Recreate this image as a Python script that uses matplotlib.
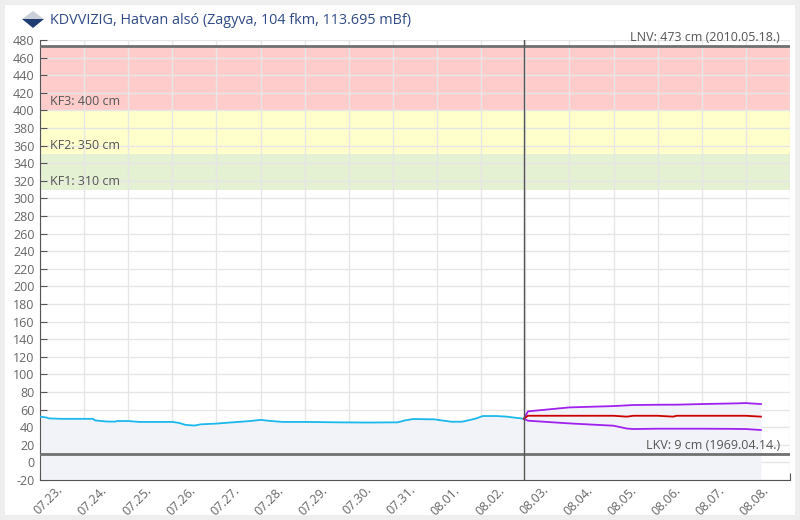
import matplotlib.pyplot as plt
from matplotlib.patches import Rectangle, Polygon
from matplotlib.transforms import ScaledTranslation

plt.rcParams['font.family'] = ['Open Sans', 'DejaVu Sans']
plt.rcParams['axes.unicode_minus'] = False

# days counted from 07.23. 00:00
day_labels = ['07.23.', '07.24.', '07.25.', '07.26.', '07.27.', '07.28.', '07.29.',
              '07.30.', '07.31.', '08.01.', '08.02.', '08.03.', '08.04.', '08.05.',
              '08.06.', '08.07.', '08.08.']

obs_t = [0.0, 0.15, 0.2, 0.5, 1.2, 1.25, 1.5, 1.7, 1.75, 2.0, 2.25, 3.0, 3.15, 3.3,
         3.5, 3.65, 4.0, 4.3, 4.5, 4.8, 5.0, 5.2, 5.5, 6.0, 6.8, 7.4, 8.1, 8.16,
         8.27, 8.46, 8.95, 9.1, 9.33, 9.56, 9.7, 9.86, 10.04, 10.35, 10.58,
         10.77, 10.97]
obs_v = [52, 51, 50, 49.5, 49.5, 47.7, 46.5, 46.3, 47, 47, 46, 46, 44.9, 42.6,
         41.9, 43.3, 44.1, 45.3, 46, 47.2, 48.3, 47.2, 46, 46, 45.5, 45.3, 45.5,
         46.2, 47.7, 49.3, 48.9, 47.7, 46.2, 46.2, 47.7, 49.6, 52.7, 52.7, 52,
         50.8, 49.6]

fc_t = [10.97, 11.06, 12.0, 13.0, 13.3, 13.45, 14.0, 14.35, 14.43, 15.0, 15.7,
        16.0, 16.34]
fc_mid = [49.6, 53, 53, 53, 52, 53, 53, 52, 53, 53, 53, 53, 52]
fc_high = [49.6, 58, 62.5, 64, 64.8, 65.2, 65.5, 65.6, 65.6, 66.3, 67, 67.4, 66.3]
fc_low = [49.6, 47.4, 44.3, 41.7, 38.5, 37.9, 38.3, 38.3, 38.3, 38.3, 38.1, 37.9, 36.8]

now_t = 10.97
levels = {'LNV': 473, 'KF3': 400, 'KF2': 350, 'KF1': 310, 'LKV': 9}

fig = plt.figure(figsize=(8, 5.2), dpi=100, facecolor='#eeeeee')
fig.patches.append(Rectangle((5 / 800, 5 / 520), 790 / 800, 510 / 520,
                             transform=fig.transFigure, facecolor='white',
                             edgecolor='none', zorder=-10))
ax = fig.add_axes([40 / 800, 40 / 520, 750 / 800, 440 / 520])
ax.set_facecolor('none')
ax.set_xlim(0, 17)
ax.set_ylim(-20, 480)

# warning bands
ax.axhspan(levels['KF3'], levels['LNV'], color='#ffcccc', lw=0, zorder=0)
ax.axhspan(levels['KF2'], levels['KF3'], color='#ffffcc', lw=0, zorder=0)
ax.axhspan(levels['KF1'], levels['KF2'], color='#e4f1d3', lw=0, zorder=0)

ax.set_yticks(range(-20, 481, 20))
ax.set_xticks(range(0, 18))
ax.grid(True, color='#e6e6e6', lw=1, zorder=0.5)
ax.set_axisbelow(True)

# fill under the curves
ax.fill_between(obs_t, -20, obs_v, color='#f2f3f8', lw=0, zorder=1)
ax.fill_between(fc_t, -20, fc_high, color='#f2f3f8', lw=0, zorder=1)

ax.plot(obs_t, obs_v, color='#1ab8ec', lw=1.3, zorder=3)
ax.plot(fc_t, fc_high, color='#a020f0', lw=1.3, zorder=3)
ax.plot(fc_t, fc_low, color='#a020f0', lw=1.3, zorder=3)
ax.plot(fc_t, fc_mid, color='#cc0000', lw=1.3, zorder=3)

ax.axhline(levels['LNV'], color='#707070', lw=2, zorder=4)
ax.axhline(levels['LKV'], color='#707070', lw=2, zorder=4)
ax.axvline(now_t, color='#555555', lw=1, zorder=4)

txt = dict(fontsize=9, color='#555555', zorder=5)
off = ScaledTranslation(0, 2 / 100, fig.dpi_scale_trans)
for key in ['KF3', 'KF2', 'KF1']:
    ax.text(0.013, levels[key], f'{key}: {levels[key]} cm', va='bottom',
            transform=ax.get_yaxis_transform() + off, **txt)
ax.text(0.987, levels['LNV'], 'LNV: 473 cm (2010.05.18.)', va='bottom', ha='right',
        transform=ax.get_yaxis_transform() + off, **txt)
ax.text(0.987, levels['LKV'], 'LKV: 9 cm (1969.04.14.)', va='bottom', ha='right',
        transform=ax.get_yaxis_transform() + off, **txt)

for s in ['top', 'right']:
    ax.spines[s].set_visible(False)
for s in ['left', 'bottom']:
    ax.spines[s].set_color('#555555')
ax.tick_params(direction='in', length=5, color='#555555', labelcolor='#666666',
               labelsize=9)
ax.tick_params(axis='y', pad=4)
ax.set_xticklabels(day_labels + [''], rotation=45, ha='right', va='center',
                   rotation_mode='anchor')
ax.tick_params(axis='x', pad=6)
shift = ScaledTranslation(21 / 100, 0, fig.dpi_scale_trans)
for lab in ax.get_xticklabels():
    lab.set_transform(lab.get_transform() + shift)

# title with a small diamond logo
fig.patches.append(Polygon([(22 / 800, 1 - 19 / 520), (33 / 800, 1 - 11 / 520),
                            (44 / 800, 1 - 19 / 520)], closed=True,
                           transform=fig.transFigure, facecolor='#c9ced8',
                           edgecolor='none'))
fig.patches.append(Polygon([(22 / 800, 1 - 19 / 520), (44 / 800, 1 - 19 / 520),
                            (33 / 800, 1 - 28 / 520)], closed=True,
                           transform=fig.transFigure, facecolor='#1f3d73',
                           edgecolor='none'))
fig.text(50 / 800, 1 - 20 / 520, 'KDVVIZIG, Hatvan alsó (Zagyva, 104 fkm, 113.695 mBf)',
         fontsize=10.4, color='#2f4a86', va='center', ha='left')

fig.savefig('out.png', dpi=100, facecolor=fig.get_facecolor())
